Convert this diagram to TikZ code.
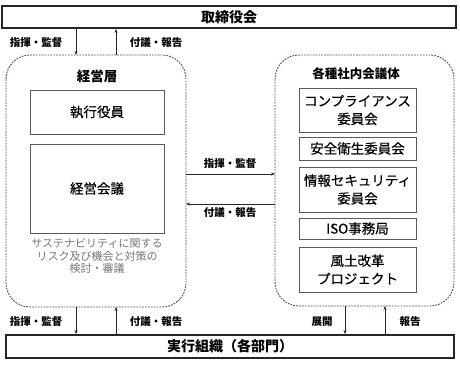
\documentclass[tikz,border=0pt]{standalone}
\usepackage{fontspec}
\setmainfont{Noto Sans CJK JP}
\newfontfamily\medjp[FakeBold=0.4]{Noto Sans CJK JP}
\usetikzlibrary{arrows.meta}
\definecolor{dashblue}{RGB}{60,80,120}
\definecolor{boxgray}{RGB}{89,89,89}
\definecolor{notegray}{RGB}{118,118,118}
\begin{document}
\begin{tikzpicture}[x=1pt, y=-1pt,
    every node/.style={inner sep=0pt},
    bar/.style={draw=black!85, line width=1.8pt, fill=white},
    grp/.style={draw=dashblue, dash pattern=on 1.8pt off 1.1pt, line width=0.9pt, rounded corners=24pt},
    unit/.style={draw=boxgray, line width=0.8pt, align=center, font=\medjp\fontsize{13.5}{18}\selectfont},
    lbl/.style={font=\fontsize{10.5}{12}\selectfont\bfseries},
    flow/.style={-{Stealth[length=4pt, width=3pt]}, line width=0.6pt, black!85}]
\useasboundingbox (0,0) rectangle (460,364);
% --- barre sopra e sotto ---
\node[bar, minimum width=454pt, minimum height=22pt, font=\fontsize{14}{16}\selectfont\bfseries] (board) at (229,17) {取締役会};
\node[bar, minimum width=448pt, minimum height=23pt, font=\fontsize{14}{16}\selectfont\bfseries] (exec) at (230,346.5) {実行組織（各部門）};
% --- gruppo sinistro ---
\begin{scope}
    \draw[grp] (6,55) rectangle (186,307);
    \coordinate (mgmtN) at (96,55);
    \coordinate (mgmtS) at (96,307);
    \coordinate (mgmtE) at (186,190);
    \node[font=\fontsize{13.5}{15}\selectfont\bfseries] (mgmt) at (97,76) {経営層};
    \node[unit, minimum width=134pt, minimum height=44pt] (officer) at (97,112) {執行役員};
    \node[unit, minimum width=134pt, minimum height=89pt] (council) at (97,188.5) {経営会議};
    \node[align=center, text=notegray, font=\fontsize{11}{12.5}\selectfont] (note) at (97,256)
        {サステナビリティに関する\\リスク及び機会と対策の\\検討・審議};
\end{scope}
% --- gruppo destro ---
\begin{scope}
    \draw[grp] (275,55) rectangle (454,306);
    \coordinate (commN) at (365,55);
    \coordinate (commS) at (365,306);
    \coordinate (commW) at (275,190);
    \node[font=\fontsize{12.5}{15}\selectfont\bfseries] (comm) at (356,74) {各種社内会議体};
    \node[unit, minimum width=117pt, minimum height=44pt] (c1) at (357.5,110) {コンプライアンス\\委員会};
    \node[unit, minimum width=117pt, minimum height=23pt] (c2) at (357.5,148.5) {安全衛生委員会};
    \node[unit, minimum width=117pt, minimum height=45pt] (c3) at (357.5,189.5) {情報セキュリティ\\委員会};
    \node[unit, minimum width=117pt, minimum height=21pt] (c4) at (357.5,228.5) {ISO事務局};
    \node[unit, minimum width=117pt, minimum height=45pt] (c5) at (357.5,269.5) {風土改革\\プロジェクト};
\end{scope}
% --- frecce ---
\coordinate (xa) at (76,0);
\coordinate (xb) at (116,0);
\coordinate (xc) at (345,0);
\coordinate (xd) at (385,0);
\coordinate (ya) at (0,174);
\coordinate (yb) at (0,204);
\draw[flow] (xa |- board.south) -- (xa |- mgmtN);
\draw[flow] (xb |- mgmtN) -- (xb |- board.south);
\draw[flow] (xa |- mgmtS) -- (xa |- exec.north);
\draw[flow] (xb |- exec.north) -- (xb |- mgmtS);
\draw[flow] (mgmtE |- ya) -- (commW |- ya);
\draw[flow] (commW |- yb) -- (mgmtE |- yb);
\draw[flow] (xc |- commS) -- (xc |- exec.north);
\draw[flow] (xd |- exec.north) -- (xd |- commS);
\node[lbl] (l1) at (36,43) {指揮・監督};
\node[lbl] (l2) at (156,43) {付議・報告};
\node[lbl] (l3) at (36,322) {指揮・監督};
\node[lbl] (l4) at (156,322) {付議・報告};
\node[lbl] (l5) at (230,164) {指揮・監督};
\node[lbl] (l6) at (230,213) {付議・報告};
\node[lbl] (l7) at (322,322) {展開};
\node[lbl] (l8) at (410,322) {報告};
\end{tikzpicture}
\end{document}
